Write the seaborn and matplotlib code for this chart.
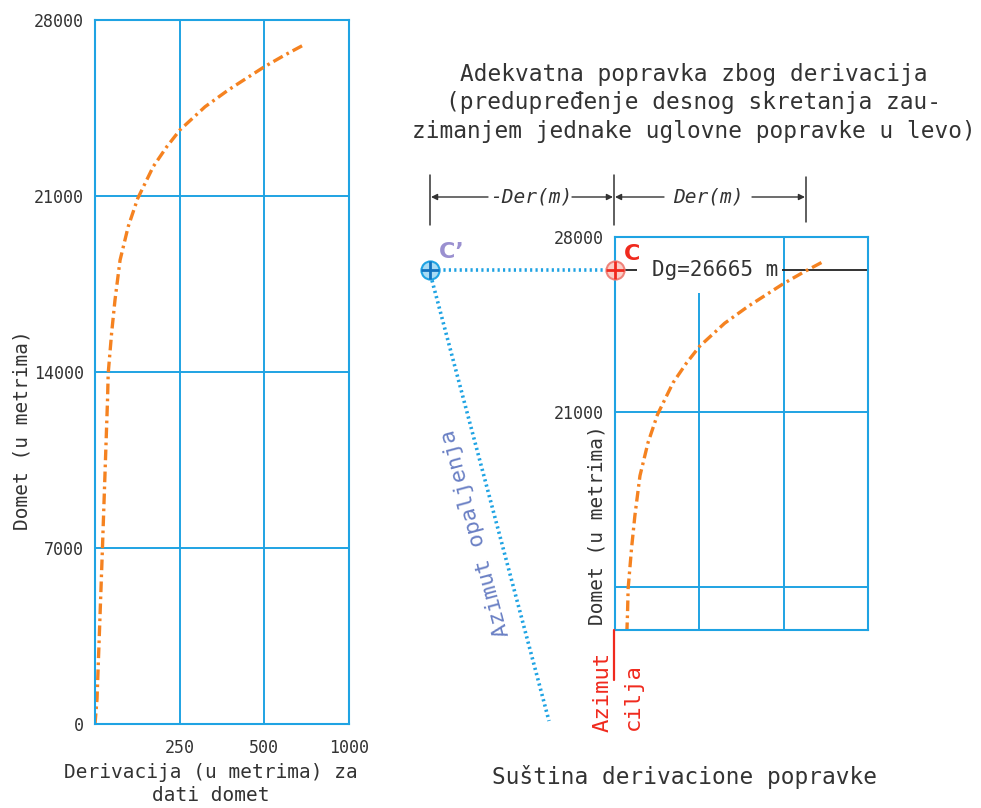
import numpy as np
import pandas as pd
import matplotlib
matplotlib.use("Agg")
import matplotlib.pyplot as plt
import matplotlib.transforms as mtransforms
from matplotlib.patches import Rectangle
import seaborn as sns

# ---------------- data ----------------
domet = [0, 1000, 7000, 12900, 13950, 15540, 16860, 18450, 19780, 20900,
         22170, 22960, 23630, 24550, 25220, 26140, 26610, 27000]
derivacija = [0, 6, 22, 37, 39, 49, 59, 74, 98, 126,
              172, 212, 251, 325, 394, 500, 622, 730]
x_ticks = [0, 250, 500, 1000]
x_tick_labels = ["", "250", "500", "1000"]
y_ticks_left = [0, 7000, 14000, 21000, 28000]
y_ticks_right = [14000, 21000, 28000]
y_tick_labels_right = ["", "21000", "28000"]
DG = 26665

df = pd.DataFrame({"der": derivacija, "domet": domet})

# piecewise scale: 0,250,500,1000 equally spaced
XP = np.array([0, 250, 500, 1000], float)
FP = np.array([0, 1, 2, 3], float)
def fwd(x):
    x = np.asarray(x, float)
    return np.interp(x, XP, FP)
def inv(p):
    p = np.asarray(p, float)
    return np.interp(p, FP, XP)

sns.set_style("white")
plt.rcParams["font.family"] = ["DejaVu Sans Mono", "DejaVu Sans"]
TXT = "#333333"
BLUE = "#1fa3e3"
ORANGE = "#f58220"
RED = "#f02a1e"

W, H = 981, 808
fig = plt.figure(figsize=(W / 100, H / 100), dpi=100)

def rect(l, t, r, b):
    return [l / W, 1 - b / H, (r - l) / W, (b - t) / H]

axl = fig.add_axes(rect(95, 20, 349, 724))
axr = fig.add_axes(rect(615, 237, 868, 630))

for ax in (axl, axr):
    sns.lineplot(data=df, x="der", y="domet", ax=ax, color=ORANGE, lw=2.4,
                 linestyle=(0, (3.2, 1.3, 0.8, 1.3)), estimator=None, sort=False)
    ax.set_xscale("function", functions=(fwd, inv))
    ax.set_xlim(0, 1000)
    for s in ax.spines.values():
        s.set_color(BLUE)
        s.set_linewidth(1.5)
        s.set_visible(True)
    ax.grid(True, color=BLUE, lw=1.4)
    ax.set_axisbelow(True)
    ax.tick_params(length=0, colors=TXT)
    ax.set_xlabel("")
    ax.set_ylabel("")

# left axes
axl.set_ylim(0, 28000)
axl.set_yticks(y_ticks_left)
axl.set_yticklabels([str(v) for v in y_ticks_left], fontsize=12)
axl.set_xticks(x_ticks)
axl.set_xticklabels(x_tick_labels, fontsize=12)
axl.tick_params(axis="x", pad=11)
axl.tick_params(axis="y", pad=8)
axl.set_ylabel("Domet (u metrima)", fontsize=14, color=TXT)
axl.yaxis.set_label_coords(-0.25, 0.418)
axl.set_xlabel("Derivacija (u metrima) za\ndati domet", fontsize=14, color=TXT, linespacing=1.3)
axl.xaxis.set_label_coords(0.457, -0.055)

# right axes
axr.set_ylim(12280, 28000)
axr.set_yticks(y_ticks_right)
axr.set_yticklabels(y_tick_labels_right, fontsize=12)
axr.set_xticks(x_ticks)
axr.set_xticklabels([""] * 4)
axr.tick_params(axis="y", pad=8)
axr.set_ylabel("Domet (u metrima)", fontsize=14, color=TXT)
axr.yaxis.set_label_coords(-0.035, 0.267)

# Dg line and label
axr.axhline(DG, color="#222222", lw=1.3, zorder=0.8, clip_on=False)
axr.add_patch(Rectangle((65, 25760), 494 - 65, 28000 - 25760, facecolor="white",
                        edgecolor="none", zorder=1))
axr.text(inv(1.19), DG, f"Dg={DG} m", fontsize=15, color=TXT, ha="center",
         va="center", zorder=3)

# overlay for schematic elements (pixel coordinates)
ov = fig.add_axes([0, 0, 1, 1])
ov.set_xlim(0, W)
ov.set_ylim(H, 0)
ov.axis("off")
bt = mtransforms.blended_transform_factory(ov.transData, axr.transData)

# point C on the Dg line at the right chart's left edge, C' shifted left
xC = 615
xCp = 430
ov.plot([xCp + 8, xC - 8], [DG, DG], transform=bt, color=BLUE, lw=2.6,
        linestyle=(0, (0.6, 0.9)), zorder=3)
ydg_px = H - axr.transData.transform((0, DG))[1]
ov.plot([xCp + 2, 549], [ydg_px + 10, 721], color=BLUE, lw=2.6,
        linestyle=(0, (0.6, 0.9)), zorder=3)
ov.scatter([xCp], [DG], transform=bt, s=170, facecolor="#a9dcf5", edgecolor=BLUE,
           lw=1.5, zorder=4)
ov.scatter([xCp], [DG], transform=bt, s=170, marker="+", color="#1273c0", lw=2, zorder=5)
ov.scatter([xC], [DG], transform=bt, s=170, facecolor="#fbd0c8", edgecolor="#f0837a",
           lw=1.5, zorder=4)
ov.scatter([xC], [DG], transform=bt, s=170, marker="+", color=RED, lw=2, zorder=5)
ov.text(452, 252, "C’", color="#9a90d0", fontsize=16, fontweight="bold",
        ha="center", va="center", family=["DejaVu Sans", "DejaVu Sans Mono"])
ov.text(632, 254, "C", color=RED, fontsize=16, fontweight="bold",
        ha="center", va="center", family=["DejaVu Sans", "DejaVu Sans Mono"])

# dimension lines
for x, t, b in [(430, 175, 225), (614, 175, 225), (806, 177, 222)]:
    ov.plot([x, x], [t, b], color="#333333", lw=1.1)
arrow = dict(arrowstyle="-|>", color="#333333", lw=1, mutation_scale=9, shrinkA=0, shrinkB=0)
ov.annotate("", xy=(431, 197), xytext=(488, 197), arrowprops=arrow)
ov.annotate("", xy=(613, 197), xytext=(572, 197), arrowprops=arrow)
ov.annotate("", xy=(615, 197), xytext=(664, 197), arrowprops=arrow)
ov.annotate("", xy=(805, 197), xytext=(752, 197), arrowprops=arrow)
ov.text(531, 197, "-Der(m)", fontsize=14, style="italic", color=TXT, ha="center", va="center")
ov.text(708, 197, "Der(m)", fontsize=14, style="italic", color=TXT, ha="center", va="center")

# azimuth labels
ov.text(476, 533, "Azimut opaljenja", rotation=105, rotation_mode="anchor",
        color="#6a80c4", fontsize=16, ha="center", va="center")
ov.plot([614, 614], [630, 680], color=RED, lw=1.6)
ov.text(603, 692, "Azimut", rotation=90, color=RED, fontsize=16,
        ha="center", va="center")
ov.text(633, 697, "cilja", rotation=90, color=RED, fontsize=16,
        ha="center", va="center")

# titles
ov.text(694, 103, "Adekvatna popravka zbog derivacija\n(predupređenje desnog skretanja zau-\nzimanjem jednake uglovne popravke u levo)",
        fontsize=16.4, color=TXT, ha="center", va="center", multialignment="center",
        linespacing=1.28)
ov.text(684, 777, "Suština derivacione popravke", fontsize=16.4, color=TXT,
        ha="center", va="center")

fig.savefig("out.png", dpi=100)
